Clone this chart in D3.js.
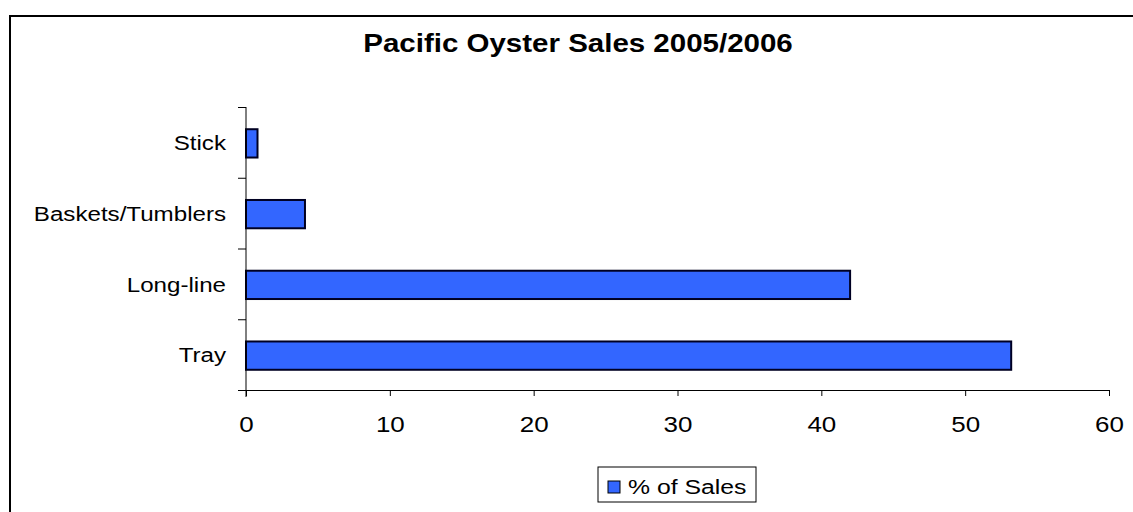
<!DOCTYPE html>
<html>
<head>
<meta charset="utf-8">
<script src="https://cdn.jsdelivr.net/npm/d3@7"></script>
<style>
  body { margin: 0; background: #fff; }
  text { font-family: 'Liberation Sans', Arial, sans-serif; fill: #000; }
</style>
</head>
<body>
<div id="chart"></div>
<script>
const chartTitle = 'Pacific Oyster Sales 2005/2006'
const categories = ['Stick', 'Baskets/Tumblers', 'Long-line', 'Tray']
const salesPct = [0.8, 4.1, 42, 53.2]
const xTicks = [0, 10, 20, 30, 40, 50, 60]
const seriesName = '% of Sales'

const width = 1133
const height = 512
const stretch = 1.18 // the picture is a bit wider than tall
const barColor = '#3366ff'

const data = categories.map((c, i) => ({ name: c, value: salesPct[i] }))

const svg = d3.select('#chart').append('svg')
  .attr('width', width)
  .attr('height', height)

// chart area border
svg.append('rect')
  .attr('x', 10).attr('y', 16)
  .attr('width', 1140).attr('height', 520)
  .attr('fill', '#fff')
  .attr('stroke', '#000')
  .attr('stroke-width', 2)

// title
svg.append('g')
  .attr('transform', 'translate(578,52)')
  .append('text')
  .attr('transform', 'scale(' + stretch + ',1)')
  .attr('text-anchor', 'middle')
  .style('font-size', '25px')
  .style('font-weight', 'bold')
  .text(chartTitle)

const x = d3.scaleLinear().domain([0, 60]).range([246, 1109])
const y = d3.scaleBand()
  .domain(categories)
  .range([107, 390])
  .paddingInner(0.6)
  .paddingOuter(0.3)
const yTicks = d3.scaleLinear().domain([0, categories.length]).range([107, 390])

// bars
svg.selectAll('.bar')
  .data(data)
  .enter().append('rect')
  .attr('class', 'bar')
  .attr('x', x(0))
  .attr('y', d => y(d.name) + 1)
  .attr('width', d => x(d.value) - x(0))
  .attr('height', y.bandwidth())
  .attr('fill', barColor)
  .attr('stroke', '#000022')
  .attr('stroke-width', 2)

// y axis: line + boundary ticks
svg.append('g')
  .attr('transform', 'translate(' + x(0) + ',0)')
  .call(d3.axisLeft(yTicks).tickValues(d3.range(categories.length + 1)).tickSize(8).tickFormat(''))
  .call(g => g.select('.domain').remove())
  .call(g => g.selectAll('line').attr('stroke', '#000'))

svg.append('line')
  .attr('x1', x(0)).attr('x2', x(0))
  .attr('y1', 107).attr('y2', 397)
  .attr('stroke', '#000')

// y labels
const labelStretch = 1.15
svg.append('g')
  .attr('transform', 'translate(' + x(0) + ',1)')
  .call(d3.axisLeft(y).tickSize(0).tickPadding(0))
  .call(g => g.select('.domain').remove())
  .call(g => g.selectAll('text')
    .attr('x', -20 / labelStretch)
    .attr('transform', 'scale(' + labelStretch + ',1)')
    .style('font-size', '21px'))

// x axis
svg.append('g')
  .attr('transform', 'translate(0,390)')
  .call(d3.axisBottom(x).tickValues(xTicks).tickSize(6).tickSizeOuter(0))
  .call(g => g.select('.domain').attr('stroke', '#000').attr('d', 'M' + x(0) + ',0.5H' + x(60)))
  .call(g => g.selectAll('line').attr('stroke', '#000'))
  .call(g => g.selectAll('text')
    .attr('y', 42)
    .attr('dy', null)
    .attr('transform', 'scale(' + stretch + ',1)')
    .style('font-size', '22px'))

// legend
const legend = svg.append('g').attr('transform', 'translate(598,467)')
legend.append('rect')
  .attr('width', 158).attr('height', 35)
  .attr('fill', '#fff')
  .attr('stroke', '#000')
legend.append('rect')
  .attr('x', 10).attr('y', 14)
  .attr('width', 12).attr('height', 12)
  .attr('fill', barColor)
  .attr('stroke', '#000')
legend.append('g')
  .attr('transform', 'translate(30,27)')
  .append('text')
  .attr('transform', 'scale(' + stretch + ',1)')
  .style('font-size', '21px')
  .text(seriesName)
</script>
</body>
</html>
